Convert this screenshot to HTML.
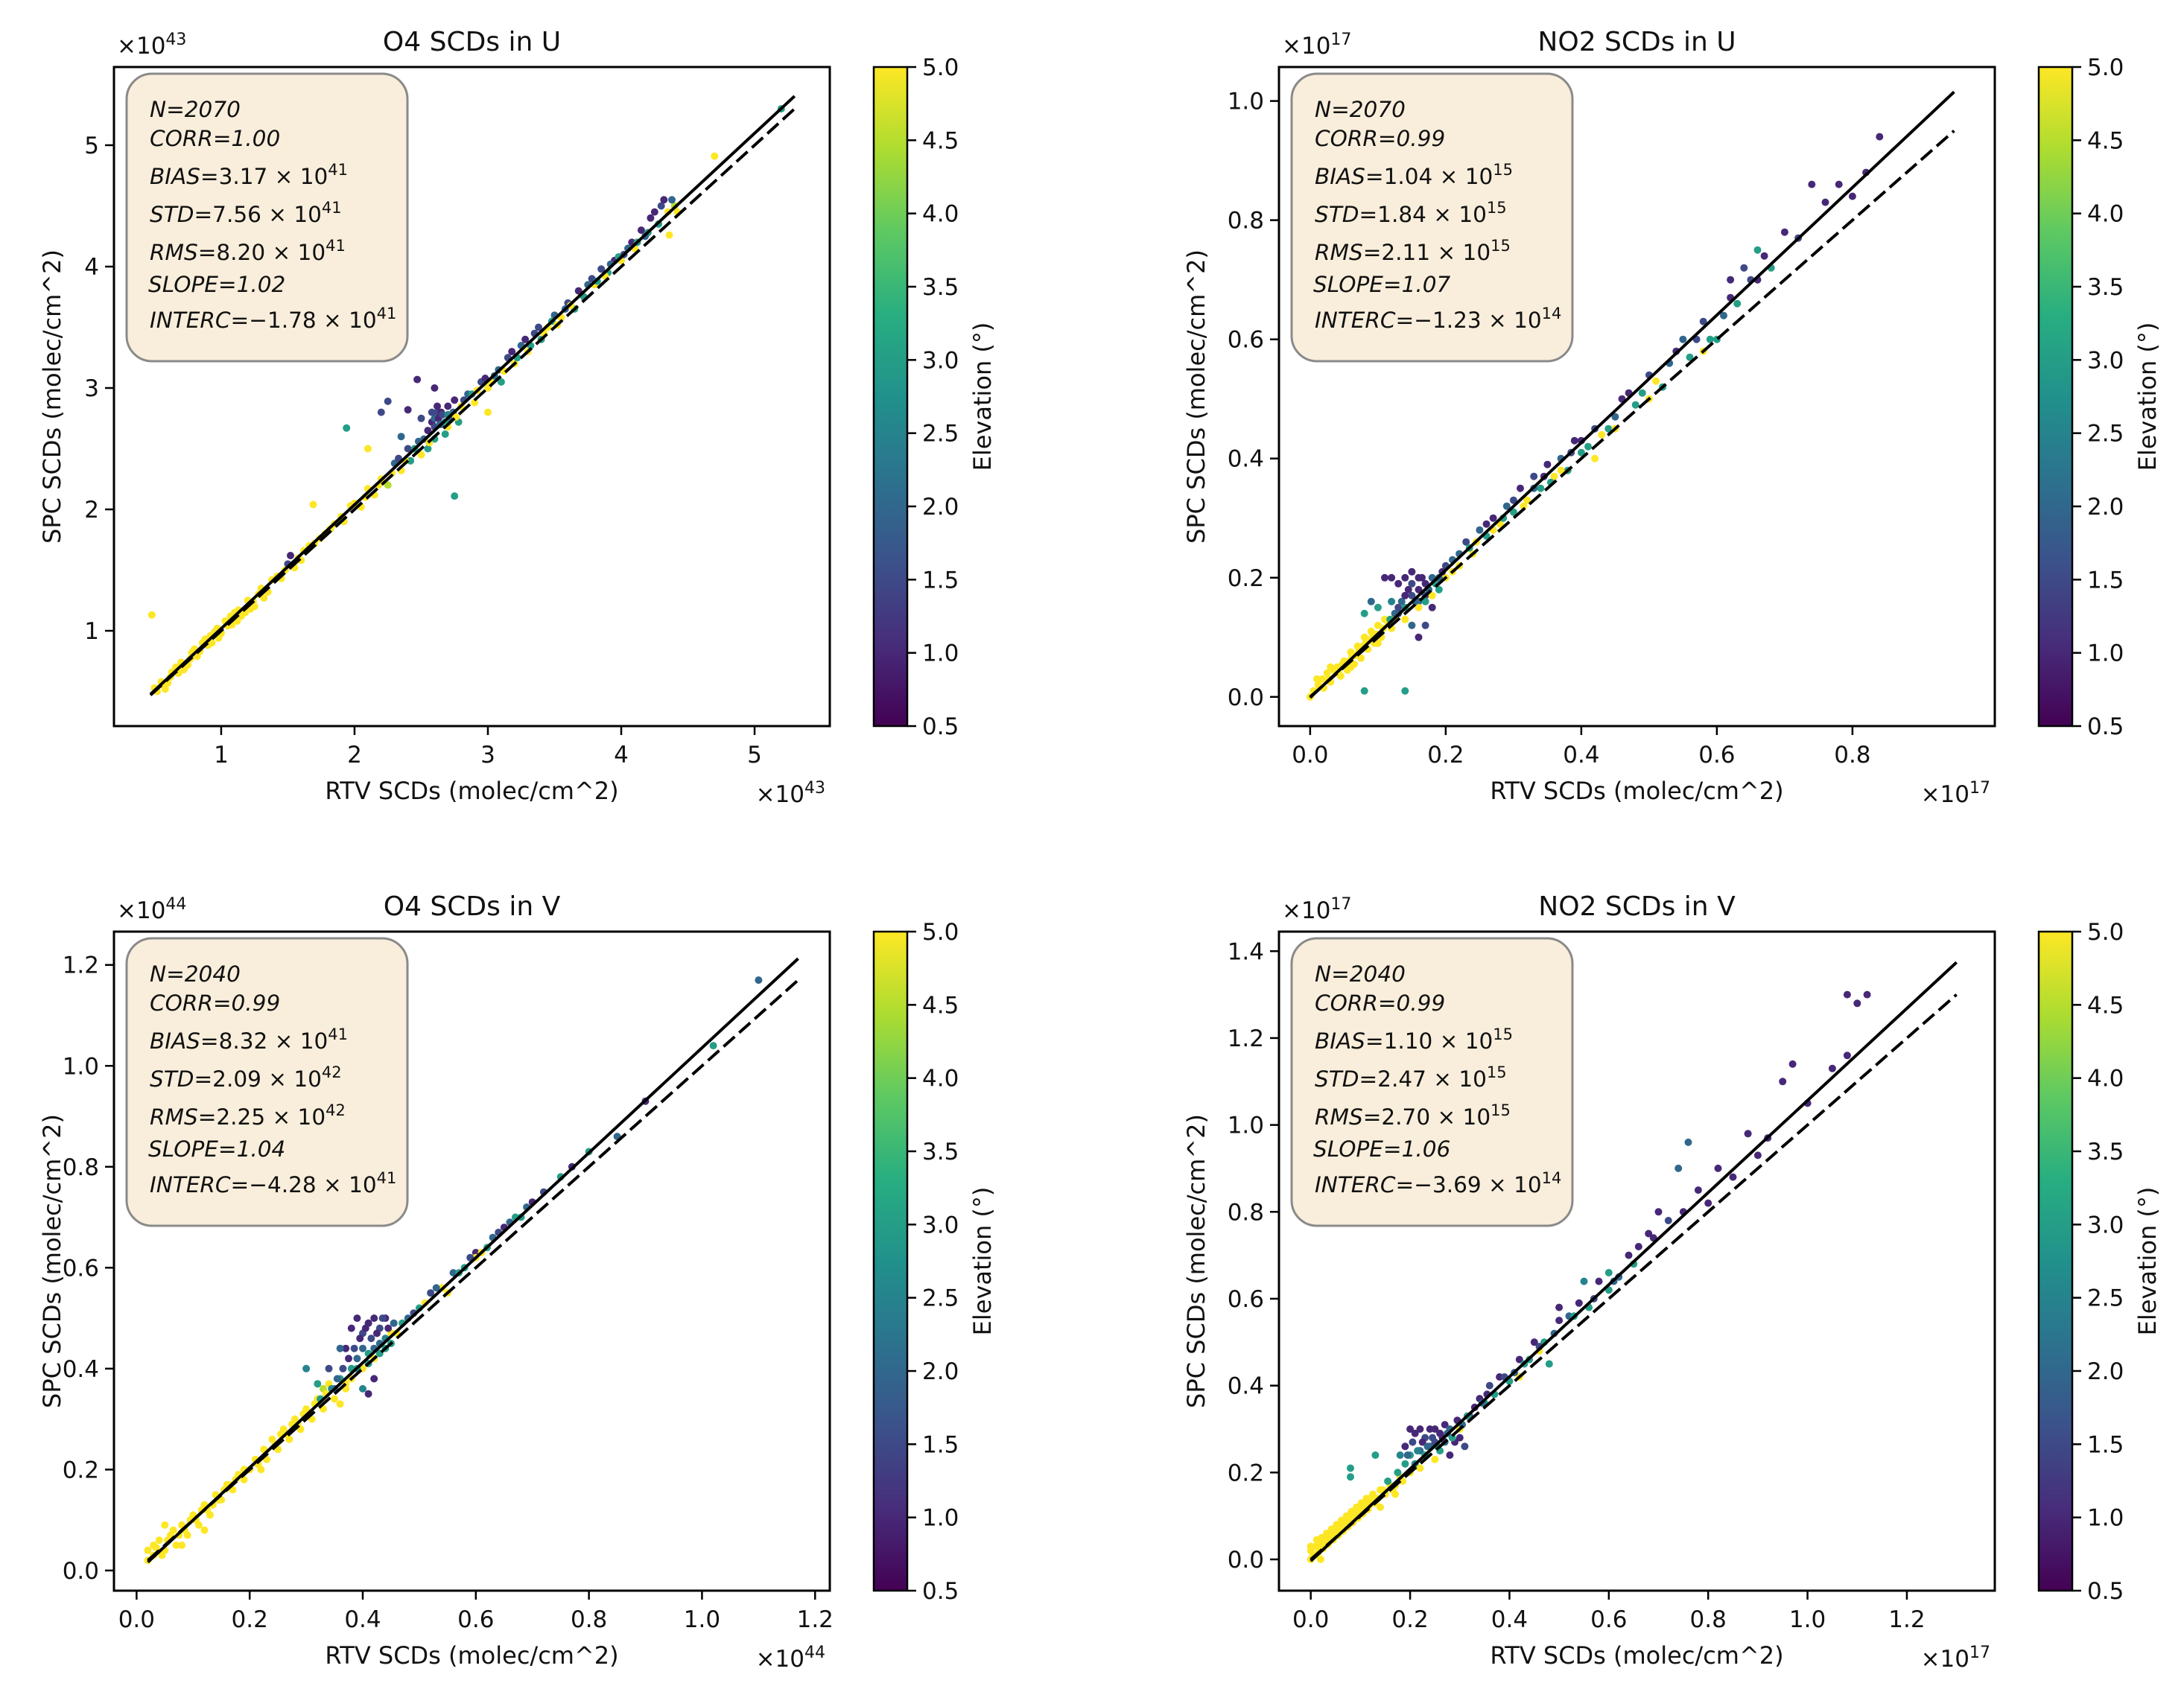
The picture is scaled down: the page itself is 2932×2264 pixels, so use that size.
<!DOCTYPE html>
<html><head><meta charset="utf-8">
<style>
html,body{margin:0;padding:0;background:#fff;}
svg{display:block;font-family:"DejaVu Sans","Liberation Sans",sans-serif;}
</style></head>
<body>
<svg id="fig" width="2932" height="2264" viewBox="0 0 2932 2264" xmlns="http://www.w3.org/2000/svg">
<defs>
<linearGradient id="viridis" x1="0" y1="1" x2="0" y2="0">
<stop offset="0" stop-color="#440154"/><stop offset="0.125" stop-color="#472d7b"/><stop offset="0.25" stop-color="#3b528b"/><stop offset="0.375" stop-color="#2c728e"/><stop offset="0.5" stop-color="#21918c"/><stop offset="0.625" stop-color="#28ae80"/><stop offset="0.75" stop-color="#5ec962"/><stop offset="0.875" stop-color="#addc30"/><stop offset="1" stop-color="#fde725"/>
</linearGradient>
</defs>
</svg>
<script>
// ---- data (x, y, elevation) ----
const tlPts = "0.52,0.50,5;0.55,0.58,5;0.6,0.57,5;0.63,0.66,5;0.68,0.65,5;0.7,0.74,5;0.75,0.72,5;0.78,0.82,5;0.82,0.79,5;0.86,0.9,5;0.9,0.88,5;0.95,0.99,5;0.98,0.94,5;1.03,1.08,5;1.08,1.05,5;1.1,1.15,5;1.15,1.12,5;1.2,1.25,5;1.22,1.18,5;1.28,1.3,5;1.32,1.27,5;1.38,1.42,5;1.45,1.43,5;1.5,1.55,1.5;1.52,1.62,1.0;1.55,1.52,5;1.62,1.66,5;1.7,1.72,5;1.78,1.8,5;1.85,1.88,5;1.92,1.9,5;1.97,2.03,5;2.05,2.02,5;2.1,2.17,5;2.15,2.12,5;2.2,2.25,5;2.25,2.2,4.5;2.3,2.38,2;2.35,2.32,5;2.4,2.5,1.5;2.42,2.4,3;2.48,2.56,2;2.5,2.45,5;2.55,2.65,1;2.58,2.72,1;2.6,2.58,3;2.62,2.8,1.5;2.65,2.7,2.5;2.68,2.62,3;2.7,2.85,1;2.72,2.75,2;2.75,2.9,1;2.78,2.72,3;2.8,2.85,5;2.85,2.95,2;2.9,2.88,5;2.95,3.05,1.5;3.0,3.0,5;3.05,3.1,2;3.1,3.05,3;3.15,3.25,1.5;3.2,3.2,5;3.25,3.35,2;3.3,3.3,5;3.35,3.45,1.5;3.4,3.4,3;3.45,3.5,5;3.5,3.6,2;3.55,3.58,5;3.6,3.7,1.5;3.65,3.65,3;3.7,3.78,5;3.75,3.85,2;3.8,3.85,5;3.85,3.98,1.5;3.9,3.95,3;3.95,4.05,1;4.0,4.05,5;4.05,4.15,2;4.1,4.15,5;4.15,4.3,1;4.2,4.28,3;4.25,4.45,1;4.3,4.5,1.5;4.35,4.45,5;4.4,4.5,4.5;4.7,4.91,5;5.2,5.3,3;0.48,1.13,5;1.69,2.04,5;1.94,2.67,3;2.75,2.11,3;2.47,3.07,1;2.25,2.89,1.5;2.1,2.5,5;2.6,3.0,1;2.2,2.8,1.5;2.4,2.82,1;3.0,2.8,5;2.35,2.6,2;2.5,2.75,1.5;2.6,2.75,2;2.65,2.8,1;2.55,2.5,3;0.58,0.52,5;0.72,0.68,5;0.92,0.96,5;1.12,1.08,5;1.25,1.2,5;1.6,1.58,5";
const tlExtra = "0.5,0.53,5;0.57,0.55,5;0.62,0.62,5;0.66,0.7,5;0.73,0.7,5;0.77,0.77,5;0.8,0.85,5;0.84,0.83,5;0.88,0.93,5;0.93,0.9,5;0.97,1.02,5;1.0,0.98,5;1.05,1.04,5;1.07,1.12,5;1.13,1.17,5;1.18,1.15,5;1.24,1.24,5;1.3,1.35,5;1.35,1.32,5;1.42,1.45,5;1.48,1.5,5;1.58,1.6,5;1.66,1.7,5;1.74,1.76,5;1.82,1.84,5;1.9,1.94,5;2.0,2.05,5;2.08,2.1,5;2.18,2.2,5;2.28,2.3,5;2.33,2.42,1.5;2.38,2.4,5;2.45,2.5,3;2.52,2.58,2;2.56,2.55,5;2.6,2.68,1.5;2.63,2.75,1;2.66,2.78,1.5;2.68,2.72,3;2.7,2.68,5;2.74,2.8,2;2.76,2.76,5;2.82,2.9,1.5;2.88,2.95,3;2.92,2.98,5;2.98,3.08,1;3.02,3.05,5;3.08,3.15,2;3.12,3.14,5;3.18,3.3,1;3.22,3.25,3;3.28,3.4,1;3.32,3.35,3;3.38,3.5,1.5;3.42,3.45,5;3.48,3.55,3;3.52,3.52,5;3.58,3.65,2;3.62,3.68,5;3.68,3.8,1;3.72,3.75,3;3.78,3.9,1.5;3.82,3.88,3;3.88,3.92,5;3.92,4.02,2;3.98,4.08,3;4.02,4.1,1.5;4.08,4.2,1;4.12,4.2,3;4.18,4.25,2;4.22,4.4,1;4.28,4.35,3;4.32,4.55,1;4.38,4.55,2;4.42,4.45,5;4.36,4.26,5;2.62,2.85,1;2.58,2.8,1.5;2.64,2.7,2;2.7,2.78,2.5";
const trPts = "0.005,0.01,5;0.01,0.03,5;0.02,0.015,5;0.025,0.04,5;0.03,0.025,5;0.04,0.05,5;0.045,0.035,5;0.05,0.06,5;0.055,0.045,5;0.06,0.075,5;0.065,0.055,5;0.07,0.085,5;0.075,0.065,5;0.08,0.1,5;0.085,0.08,5;0.09,0.11,5;0.095,0.09,5;0.1,0.12,5;0.105,0.1,5;0.11,0.13,5;0.12,0.115,5;0.125,0.135,5;0.13,0.14,1.5;0.1,0.15,3;0.11,0.2,1;0.12,0.2,1;0.13,0.19,1;0.14,0.2,1;0.15,0.21,1;0.16,0.2,1;0.17,0.19,1;0.09,0.16,2;0.08,0.14,3;0.12,0.16,2.5;0.14,0.15,3;0.15,0.17,1.5;0.16,0.16,2;0.17,0.17,1.5;0.18,0.2,2;0.15,0.12,2;0.17,0.12,1.5;0.16,0.1,1;0.18,0.15,1;0.19,0.18,3;0.2,0.22,1.5;0.2,0.2,5;0.21,0.23,2;0.22,0.22,5;0.23,0.26,1.5;0.24,0.24,5;0.25,0.28,2;0.26,0.27,3;0.27,0.3,1;0.28,0.29,5;0.29,0.32,2;0.3,0.31,3;0.31,0.35,1;0.32,0.33,5;0.33,0.37,1.5;0.34,0.35,3;0.35,0.39,1;0.36,0.37,5;0.37,0.4,2;0.38,0.38,3;0.39,0.43,1;0.4,0.41,3;0.42,0.45,1.5;0.44,0.45,3;0.46,0.5,1;0.48,0.49,3;0.5,0.54,1.5;0.52,0.52,3;0.54,0.58,1;0.56,0.57,3;0.58,0.63,1.5;0.6,0.6,3;0.62,0.67,1;0.64,0.72,1.5;0.66,0.7,1;0.68,0.72,3;0.7,0.78,1;0.72,0.77,1.5;0.74,0.86,1;0.76,0.83,1;0.78,0.86,1;0.8,0.84,1;0.82,0.88,1;0.84,0.94,1;0.66,0.75,3;0.58,0.58,5;0.5,0.5,5;0.08,0.01,3;0.14,0.01,3;0.42,0.4,5;0.45,0.45,5;0.55,0.6,2;0.62,0.7,1;0.03,0.05,5;0.06,0.05,5;0.1,0.09,5;0.14,0.13,5;0.16,0.15,5";
const trExtra = "0.0,0.0,5;0.012,0.02,5;0.018,0.03,5;0.028,0.03,5;0.035,0.045,5;0.042,0.04,5;0.048,0.055,5;0.058,0.06,5;0.062,0.068,5;0.068,0.07,5;0.072,0.078,5;0.078,0.085,5;0.082,0.09,5;0.088,0.095,5;0.092,0.1,5;0.098,0.105,5;0.108,0.115,5;0.115,0.125,5;0.118,0.13,3;0.125,0.14,2;0.13,0.15,1.5;0.135,0.16,2;0.14,0.17,1;0.145,0.18,1;0.15,0.19,1.5;0.155,0.16,2;0.16,0.18,1;0.165,0.2,1;0.17,0.16,3;0.175,0.18,2;0.18,0.17,5;0.185,0.19,3;0.19,0.2,2;0.195,0.21,1;0.21,0.21,5;0.22,0.24,2;0.235,0.25,3;0.245,0.26,5;0.26,0.29,1;0.27,0.28,5;0.285,0.3,3;0.3,0.33,1.5;0.315,0.32,5;0.33,0.35,2;0.345,0.37,1;0.355,0.36,3;0.37,0.38,5;0.385,0.41,1.5;0.4,0.43,1;0.41,0.42,3;0.43,0.44,5;0.45,0.47,2;0.47,0.51,1;0.49,0.51,3;0.51,0.53,5;0.53,0.56,2;0.57,0.6,1.5;0.59,0.6,3;0.61,0.64,2;0.63,0.66,3;0.65,0.7,1.5;0.67,0.74,1";
const blPts = "0.03,0.03,5;0.04,0.06,5;0.05,0.04,5;0.06,0.07,5;0.07,0.05,5;0.08,0.09,5;0.09,0.07,5;0.1,0.11,5;0.11,0.09,5;0.12,0.13,5;0.13,0.11,5;0.14,0.15,5;0.15,0.14,5;0.16,0.17,5;0.17,0.16,5;0.18,0.19,5;0.2,0.2,5;0.21,0.22,5;0.23,0.22,5;0.24,0.26,5;0.25,0.24,5;0.26,0.28,5;0.27,0.26,5;0.28,0.3,5;0.29,0.28,5;0.3,0.32,5;0.31,0.3,5;0.32,0.34,5;0.33,0.32,5;0.34,0.37,5;0.35,0.34,5;0.36,0.33,5;0.05,0.09,5;0.03,0.05,5;0.08,0.05,5;0.12,0.08,5;0.32,0.37,3;0.34,0.4,1.5;0.36,0.38,3;0.37,0.44,1;0.38,0.48,1;0.39,0.5,1;0.4,0.47,1.5;0.41,0.49,1;0.42,0.5,1;0.43,0.48,1.5;0.44,0.5,1;0.38,0.4,3;0.39,0.42,2;0.4,0.4,5;0.41,0.43,3;0.42,0.44,2;0.43,0.43,3;0.44,0.46,2.5;0.45,0.47,5;0.37,0.36,5;0.38,0.38,5;0.35,0.36,2;0.4,0.36,2.5;0.42,0.38,1;0.41,0.35,1;0.3,0.4,2.5;0.36,0.44,2;0.33,0.36,4.5;0.46,0.47,5;0.48,0.5,2;0.5,0.52,3;0.52,0.55,1.5;0.54,0.56,5;0.56,0.59,2;0.58,0.6,3;0.6,0.63,1;0.62,0.64,3;0.64,0.67,1.5;0.66,0.69,2;0.68,0.7,3;0.7,0.73,1;0.72,0.75,1.5;0.75,0.78,3;0.77,0.8,1;0.8,0.83,3;0.85,0.86,2;0.9,0.93,1;1.02,1.04,3;1.1,1.17,2;0.55,0.55,5;0.6,0.62,5;0.19,0.18,5;0.22,0.2,5;0.02,0.04,5";
const blExtra = "0.02,0.02,5;0.035,0.045,5;0.045,0.03,5;0.055,0.06,5;0.065,0.08,5;0.075,0.07,5;0.085,0.08,5;0.095,0.1,5;0.105,0.1,5;0.115,0.12,5;0.125,0.12,5;0.135,0.13,5;0.145,0.14,5;0.155,0.16,5;0.165,0.17,5;0.175,0.18,5;0.19,0.2,5;0.215,0.21,5;0.225,0.24,5;0.245,0.25,5;0.255,0.27,5;0.265,0.27,5;0.275,0.29,5;0.285,0.29,5;0.295,0.31,5;0.305,0.31,5;0.315,0.33,5;0.325,0.34,3;0.335,0.35,5;0.345,0.36,2.5;0.355,0.38,2;0.365,0.4,1.5;0.37,0.37,5;0.375,0.42,1;0.385,0.44,1.5;0.39,0.4,3;0.395,0.46,1;0.4,0.44,2;0.405,0.48,1;0.41,0.41,3;0.415,0.46,1.5;0.42,0.42,5;0.425,0.47,1;0.43,0.45,2;0.435,0.5,1.5;0.44,0.44,3;0.445,0.48,1;0.45,0.45,3;0.455,0.49,2;0.47,0.49,3;0.49,0.51,1.5;0.51,0.53,5;0.53,0.56,2;0.57,0.59,3;0.59,0.62,1.5;0.61,0.63,5;0.63,0.66,2;0.65,0.68,1;0.67,0.7,3;0.69,0.72,2";
const brPts = "0.005,0.01,5;0.01,0.03,5;0.015,0.015,5;0.02,0.04,5;0.025,0.025,5;0.03,0.05,5;0.035,0.035,5;0.04,0.06,5;0.045,0.045,5;0.05,0.07,5;0.055,0.055,5;0.06,0.08,5;0.065,0.065,5;0.07,0.09,5;0.075,0.075,5;0.08,0.1,5;0.085,0.085,5;0.09,0.11,5;0.095,0.095,5;0.1,0.12,5;0.105,0.105,5;0.11,0.13,5;0.115,0.115,5;0.12,0.14,5;0.13,0.13,5;0.14,0.16,5;0.15,0.15,5;0.16,0.17,5;0.17,0.17,5;0.18,0.19,5;0.0,0.03,5;0.02,0.0,5;0.08,0.21,3;0.08,0.19,3;0.13,0.24,3;0.18,0.24,2.5;0.2,0.3,1;0.21,0.29,1;0.22,0.3,1;0.23,0.28,1.5;0.24,0.3,1;0.25,0.3,1;0.26,0.29,1;0.27,0.31,1;0.19,0.22,3;0.2,0.24,3;0.21,0.22,2.5;0.22,0.25,2;0.23,0.24,3;0.24,0.26,2;0.25,0.27,1.5;0.26,0.25,3;0.27,0.27,2;0.28,0.3,2;0.29,0.27,1;0.3,0.28,1;0.31,0.26,1.5;0.28,0.24,1;0.2,0.2,5;0.22,0.21,5;0.25,0.23,5;0.3,0.3,5;0.32,0.33,2;0.34,0.37,1;0.35,0.36,3;0.36,0.4,1.5;0.38,0.42,1;0.4,0.41,3;0.42,0.46,1;0.44,0.46,3;0.45,0.5,1;0.47,0.5,3;0.48,0.45,3;0.5,0.55,1;0.52,0.56,2;0.54,0.59,1;0.56,0.58,3;0.58,0.64,1;0.6,0.62,3;0.62,0.65,2;0.64,0.7,1;0.66,0.72,1;0.68,0.75,1;0.7,0.8,1;0.72,0.78,1.5;0.75,0.8,1;0.78,0.85,1;0.8,0.82,1;0.82,0.9,1;0.85,0.88,1;0.88,0.98,1;0.9,0.93,1;0.92,0.97,1;0.95,1.1,1;0.97,1.14,1;1.0,1.05,1;1.05,1.13,1;1.08,1.16,1;1.08,1.3,1;1.1,1.28,1;1.12,1.3,1;0.76,0.96,2;0.74,0.9,2;0.5,0.58,1;0.55,0.64,2.5;0.6,0.66,3;0.42,0.42,5;0.46,0.48,5;0.14,0.12,5;0.17,0.15,5";
const brExtra = "0.0,0.0,5;0.0,0.02,5;0.01,0.01,5;0.012,0.045,5;0.018,0.025,5;0.022,0.05,5;0.028,0.035,5;0.032,0.06,5;0.038,0.045,5;0.042,0.07,5;0.048,0.055,5;0.052,0.08,5;0.058,0.065,5;0.062,0.09,5;0.068,0.075,5;0.072,0.1,5;0.078,0.085,5;0.082,0.11,5;0.088,0.095,5;0.092,0.12,5;0.098,0.105,5;0.102,0.13,5;0.108,0.115,5;0.112,0.14,5;0.118,0.125,5;0.125,0.15,5;0.135,0.14,5;0.145,0.16,5;0.155,0.18,3;0.165,0.16,5;0.175,0.2,3;0.185,0.18,5;0.19,0.26,1;0.195,0.24,2;0.205,0.27,1.5;0.215,0.25,2.5;0.225,0.27,1;0.235,0.26,2;0.245,0.28,1.5;0.255,0.26,3;0.265,0.28,1;0.275,0.29,2;0.285,0.28,3;0.295,0.32,1;0.305,0.31,2;0.315,0.33,3;0.33,0.35,1;0.345,0.36,2;0.355,0.38,1;0.37,0.38,3;0.39,0.42,1.5;0.41,0.43,2;0.43,0.45,3;0.46,0.49,1.5;0.49,0.52,2;0.53,0.56,3;0.57,0.6,1.5;0.61,0.64,2;0.65,0.68,3;0.69,0.74,1";

const panelTitles = ["O4 SCDs in U", "NO2 SCDs in U", "O4 SCDs in V", "NO2 SCDs in V"];
const panelExps = ["43", "17", "44", "17"];
const xDomains = [[0.196, 5.564], [-0.046, 1.010], [-0.04, 1.226], [-0.064, 1.377]];
const yDomains = [[0.215, 5.644], [-0.049, 1.057], [-0.04, 1.266], [-0.072, 1.445]];
const xTicks = [[1,2,3,4,5], [0,0.2,0.4,0.6,0.8], [0,0.2,0.4,0.6,0.8,1.0,1.2], [0,0.2,0.4,0.6,0.8,1.0,1.2]];
const yTicks = [[1,2,3,4,5], [0,0.2,0.4,0.6,0.8,1.0], [0,0.2,0.4,0.6,0.8,1.0,1.2], [0,0.2,0.4,0.6,0.8,1.0,1.2,1.4]];
const tickDecimals = [0, 1, 1, 1];
const fitSlopes = [1.02, 1.07, 1.04, 1.06];
const fitIntercepts = [-0.00178, -0.00123, -0.00428, -0.00369];
const lineStart = [0.47, 0.0, 0.02, 0.0];
const lineEnd = [5.3, 0.95, 1.17, 1.30];
const statN = ["2070", "2070", "2040", "2040"];
const statCorr = ["1.00", "0.99", "0.99", "0.99"];
const statBias = [["3.17","41"], ["1.04","15"], ["8.32","41"], ["1.10","15"]];
const statStd = [["7.56","41"], ["1.84","15"], ["2.09","42"], ["2.47","15"]];
const statRms = [["8.20","41"], ["2.11","15"], ["2.25","42"], ["2.70","15"]];
const statSlope = ["1.02", "1.07", "1.04", "1.06"];
const statInterc = [["1.78","41"], ["1.23","14"], ["4.28","41"], ["3.69","14"]];
const cbTicks = [0.5,1.0,1.5,2.0,2.5,3.0,3.5,4.0,4.5,5.0];
const panelPoints = [tlPts + ";" + tlExtra, trPts + ";" + trExtra, blPts + ";" + blExtra, brPts + ";" + brExtra];

// ---- layout ----
const NS = "http://www.w3.org/2000/svg";
const fig = document.getElementById("fig");
const axLeft = [153, 1717, 153, 1717];
const axTop = [90, 90, 1251, 1251];
const AW = 961, AH = 885;
const CB_OFF = 59, CB_W = 45;
const names = ["o4-u", "no2-u", "o4-v", "no2-v"];
const FT = 31;

const vir = [[68,1,84],[71,45,123],[59,82,139],[44,114,142],[33,145,140],[40,174,128],[94,201,98],[173,220,48],[253,231,37]];
function viridis(e){
  let t = Math.max(0, Math.min(1, (e-0.5)/4.5)) * 8;
  const i = Math.min(7, Math.floor(t)); const f = t - i;
  const a = vir[i], b = vir[i+1];
  return "rgb(" + [0,1,2].map(k => Math.round(a[k] + (b[k]-a[k])*f)).join(",") + ")";
}
function el(tag, attrs, parent){
  const e = document.createElementNS(NS, tag);
  for (const k in attrs) e.setAttribute(k, attrs[k]);
  (parent || fig).appendChild(e);
  return e;
}
function txt(str, attrs, parent){
  const t = el("text", attrs, parent); t.textContent = str; return t;
}
function sciText(parent, x, y, label, mant, exp, neg){
  const t = el("text", {x: x, y: y, "font-size": 29.5, fill: "#111"}, parent);
  const a = document.createElementNS(NS, "tspan"); a.setAttribute("font-style", "italic"); a.textContent = label; t.appendChild(a);
  const b = document.createElementNS(NS, "tspan"); b.textContent = "=" + (neg ? "\u2212" : "") + mant + " \u00d7 10"; t.appendChild(b);
  const c = document.createElementNS(NS, "tspan"); c.setAttribute("dy", "-12"); c.setAttribute("font-size", "21"); c.textContent = exp; t.appendChild(c);
  return t;
}

for (let p = 0; p < 4; p++){
  const L = axLeft[p], T = axTop[p], R = L + AW, B = T + AH;
  const [x0, x1] = xDomains[p], [y0, y1] = yDomains[p];
  const sx = v => L + (v - x0) / (x1 - x0) * AW;
  const sy = v => B - (v - y0) / (y1 - y0) * AH;
  const g = el("g", {});
  
  

  const pg = el("g", {}, g);
  
  
  panelPoints[p].split(";").forEach(s => {
    const v = s.split(",").map(Number);
    const c = el("circle", {cx: sx(v[0]).toFixed(1), cy: sy(v[1]).toFixed(1), r: 5, fill: viridis(v[2])}, pg);
    
    
  });

  const xa = lineStart[p], xb = lineEnd[p];
  const fit = el("line", {x1: sx(xa), y1: sy(fitSlopes[p]*xa + fitIntercepts[p]), x2: sx(xb), y2: sy(fitSlopes[p]*xb + fitIntercepts[p]), stroke: "#000", "stroke-width": 4}, g);
  
  
  const one = el("line", {x1: sx(xa), y1: sy(xa), x2: sx(xb), y2: sy(xb), stroke: "#000", "stroke-width": 4, "stroke-dasharray": "20 8"}, g);
  
  

  const fr = el("rect", {x: L, y: T, width: AW, height: AH, fill: "none", stroke: "#000", "stroke-width": 3}, g);
  
  

  const dec = tickDecimals[p];
  xTicks[p].forEach(v => {
    const x = sx(v);
    el("line", {x1: x, y1: B, x2: x, y2: B + 12, stroke: "#000", "stroke-width": 2.5}, g);
    const t = txt(v.toFixed(dec), {x: x, y: B + 49, "font-size": FT, "text-anchor": "middle", fill: "#111"}, g);
    
    
  });
  yTicks[p].forEach(v => {
    const y = sy(v);
    el("line", {x1: L - 12, y1: y, x2: L, y2: y, stroke: "#000", "stroke-width": 2.5}, g);
    const t = txt(v.toFixed(dec), {x: L - 20, y: y + 11, "font-size": FT, "text-anchor": "end", fill: "#111"}, g);
    
    
  });

  const oy = el("text", {x: L + 4, y: T - 18, "font-size": FT, fill: "#111"}, g);
  oy.textContent = "\u00d710";
  const oys = document.createElementNS(NS, "tspan"); oys.setAttribute("dy", "-12"); oys.setAttribute("font-size", "22"); oys.textContent = panelExps[p]; oy.appendChild(oys);
  
  
  const ox = el("text", {x: R - 6, y: B + 102, "font-size": FT, "text-anchor": "end", fill: "#111"}, g);
  ox.textContent = "\u00d710";
  const oxs = document.createElementNS(NS, "tspan"); oxs.setAttribute("dy", "-12"); oxs.setAttribute("font-size", "22"); oxs.textContent = panelExps[p]; ox.appendChild(oxs);
  
  

  const ti = txt(panelTitles[p], {x: L + AW/2, y: T - 22, "font-size": 36, "text-anchor": "middle", fill: "#111"}, g);
  
  
  const xl = txt("RTV SCDs (molec/cm^2)", {x: L + AW/2, y: B + 98, "font-size": 32, "text-anchor": "middle", fill: "#111"}, g);
  
  
  const ylx = L - (p % 2 === 0 ? 72 : 100), yly = T + AH/2;
  const yl = txt("SPC SCDs (molec/cm^2)", {x: ylx, y: yly, "font-size": 32, "text-anchor": "middle", fill: "#111", transform: "rotate(-90 " + ylx + " " + yly + ")"}, g);
  
  

  const bx = L + 17, by = T + 9;
  const sb = el("g", {}, g);
  
  
  el("rect", {x: bx, y: by, width: 377, height: 386, rx: 34, ry: 34, fill: "#f9eedb", stroke: "#8a8a8a", "stroke-width": 3}, sb);
  const tx = bx + 31;
  const n1 = el("text", {x: tx, y: T + 67, "font-size": 29.5, "font-style": "italic", fill: "#111"}, sb); n1.textContent = "N=" + statN[p];
  const n2 = el("text", {x: tx, y: T + 106, "font-size": 29.5, "font-style": "italic", fill: "#111"}, sb); n2.textContent = "CORR=" + statCorr[p];
  sciText(sb, tx, T + 157, "BIAS", statBias[p][0], statBias[p][1], false);
  sciText(sb, tx, T + 208, "STD", statStd[p][0], statStd[p][1], false);
  sciText(sb, tx, T + 259, "RMS", statRms[p][0], statRms[p][1], false);
  const n3 = el("text", {x: tx - 2, y: T + 302, "font-size": 29.5, "font-style": "italic", fill: "#111"}, sb); n3.textContent = "SLOPE=" + statSlope[p];
  sciText(sb, tx, T + 350, "INTERC", statInterc[p][0], statInterc[p][1], true);

  const cx = R + CB_OFF;
  const cb = el("rect", {x: cx, y: T, width: CB_W, height: AH, fill: "url(#viridis)", stroke: "#000", "stroke-width": 2.5}, g);
  
  
  cbTicks.forEach(v => {
    const y = B - (v - 0.5) / 4.5 * AH;
    el("line", {x1: cx + CB_W, y1: y, x2: cx + CB_W + 12, y2: y, stroke: "#000", "stroke-width": 2.5}, g);
    const t = txt(v.toFixed(1), {x: cx + CB_W + 20, y: y + 11, "font-size": FT, fill: "#111"}, g);
    
    
  });
  const clx = cx + CB_W + 112, cly = T + AH/2;
  const cl = txt("Elevation (\u00b0)", {x: clx, y: cly, "font-size": 32, "text-anchor": "middle", fill: "#111", transform: "rotate(-90 " + clx + " " + cly + ")"}, g);
  
  
}
</script>
</body></html>
